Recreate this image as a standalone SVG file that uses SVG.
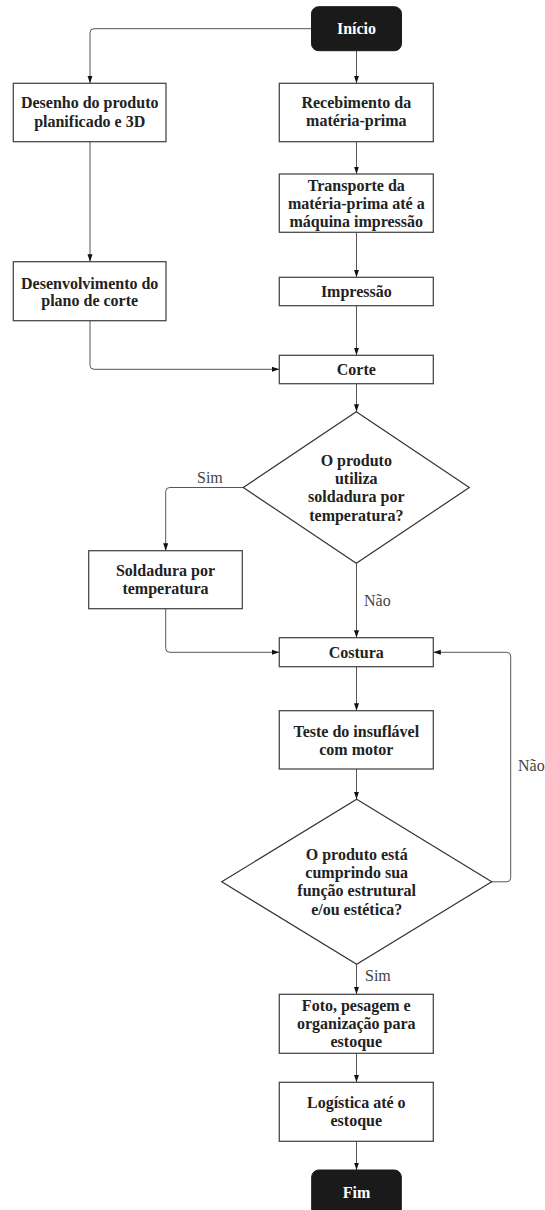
<svg xmlns="http://www.w3.org/2000/svg" width="545" height="1210" viewBox="0 0 545 1210">
<style>
.box{fill:#fff;stroke:#4a4a4a;stroke-width:1.3}
.term{fill:#1a1a1a;stroke:#1a1a1a}
.dia{fill:#fff;stroke:#333;stroke-width:1.2}
.t{font-family:"Liberation Serif","Times New Roman",serif;font-size:16px;font-weight:bold;fill:#222;text-anchor:middle}
.tw{font-family:"Liberation Serif","Times New Roman",serif;font-size:16px;font-weight:bold;fill:#fff;text-anchor:middle}
.lbl{font-family:"Liberation Serif","Times New Roman",serif;font-size:16px;fill:#444}
.c{fill:none;stroke:#555;stroke-width:1;marker-end:url(#arr)}
</style>
<defs>
<marker id="arr" markerUnits="userSpaceOnUse" markerWidth="8" markerHeight="6" refX="7.5" refY="3" orient="auto">
<path d="M0,0.5 L7.5,3 L0,5.5 z" fill="#111"/>
</marker>
</defs>
<rect width="545" height="1210" fill="#fff"/>
<g id="connectors">
<path class="c" d="M311.5,28.7 H94 Q90,28.7 90,32.7 V83.3"/>
<path class="c" d="M356.5,50.7 V83.3"/>
<path class="c" d="M90,141.7 V261.7"/>
<path class="c" d="M356.5,141.7 V174"/>
<path class="c" d="M356.5,232.3 V277.3"/>
<path class="c" d="M90,320.7 V365.3 Q90,369.3 94,369.3 H279.3"/>
<path class="c" d="M356.5,305.7 V355.3"/>
<path class="c" d="M356.5,383.7 V411.7"/>
<path class="c" d="M243.3,487.5 H169.7 Q165.7,487.5 165.7,491.5 V550.7"/>
<path class="c" d="M356.5,563.3 V637.7"/>
<path class="c" d="M165.7,608.7 V648.3 Q165.7,652.3 169.7,652.3 H279.3"/>
<path class="c" d="M356.5,666.7 V710.7"/>
<path class="c" d="M356.5,769 V799.3"/>
<path class="c" d="M491.7,881.8 H506.7 Q510.7,881.8 510.7,877.8 V656.3 Q510.7,652.3 506.7,652.3 H433.3"/>
<path class="c" d="M356.5,964.3 V994.3"/>
<path class="c" d="M356.5,1053.3 V1082.3"/>
<path class="c" d="M356.5,1141.3 V1170"/>
<text class="lbl" x="197" y="482.5">Sim</text>
<text class="lbl" x="364" y="605.5">Não</text>
<text class="lbl" x="518" y="771">Não</text>
<text class="lbl" x="365" y="981">Sim</text>
</g>
<g id="inicio">
<rect class="term" x="311.5" y="6.7" width="90" height="44" rx="7"/>
<text class="tw" x="356.5" y="34">Início</text>
</g>
<g id="desenho">
<rect class="box" x="13.3" y="83.3" width="152.7" height="58.4"/>
<text class="t" x="89.7" y="108">Desenho do produto</text>
<text class="t" x="89.7" y="126.5">planificado e 3D</text>
</g>
<g id="recebimento">
<rect class="box" x="279.3" y="83.3" width="154" height="58.4"/>
<text class="t" x="356.3" y="108">Recebimento da</text>
<text class="t" x="356.3" y="126">matéria-prima</text>
</g>
<g id="transporte">
<rect class="box" x="279.3" y="174" width="154" height="58.3"/>
<text class="t" x="356.3" y="190.5">Transporte da</text>
<text class="t" x="356.3" y="208.8">matéria-prima até a</text>
<text class="t" x="356.3" y="227">máquina impressão</text>
</g>
<g id="desenvolvimento">
<rect class="box" x="13.3" y="261.7" width="152.7" height="59"/>
<text class="t" x="89.7" y="289">Desenvolvimento do</text>
<text class="t" x="89.7" y="306">plano de corte</text>
</g>
<g id="impressao">
<rect class="box" x="279.3" y="277.3" width="154" height="28.4"/>
<text class="t" x="356.3" y="297">Impressão</text>
</g>
<g id="corte">
<rect class="box" x="279.3" y="355.3" width="154" height="28.4"/>
<text class="t" x="356.3" y="375">Corte</text>
</g>
<g id="decisao1">
<polygon class="dia" points="356.3,411.7 469.3,487.5 356.3,563.3 243.3,487.5"/>
<text class="t" x="356.3" y="465.5">O produto</text>
<text class="t" x="356.3" y="483.8">utiliza</text>
<text class="t" x="356.3" y="502.2">soldadura por</text>
<text class="t" x="356.3" y="520.5">temperatura?</text>
</g>
<g id="soldadura">
<rect class="box" x="88.7" y="550.7" width="153.6" height="58"/>
<text class="t" x="165.5" y="576">Soldadura por</text>
<text class="t" x="165.5" y="594">temperatura</text>
</g>
<g id="costura">
<rect class="box" x="279.3" y="637.7" width="154" height="29"/>
<text class="t" x="356.3" y="658">Costura</text>
</g>
<g id="teste">
<rect class="box" x="279.3" y="710.7" width="154" height="58.3"/>
<text class="t" x="356.3" y="736.5">Teste do insuflável</text>
<text class="t" x="356.3" y="754.5">com motor</text>
</g>
<g id="decisao2">
<polygon class="dia" points="356.7,799.3 491.7,881.8 356.7,964.3 221.7,881.8"/>
<text class="t" x="356.7" y="859.5">O produto está</text>
<text class="t" x="356.7" y="877.8">cumprindo sua</text>
<text class="t" x="356.7" y="896.2">função estrutural</text>
<text class="t" x="356.7" y="914.5">e/ou estética?</text>
</g>
<g id="foto">
<rect class="box" x="279.3" y="994.3" width="154" height="59"/>
<text class="t" x="356.3" y="1011">Foto, pesagem e</text>
<text class="t" x="356.3" y="1029.3">organização para</text>
<text class="t" x="356.3" y="1047">estoque</text>
</g>
<g id="logistica">
<rect class="box" x="279.3" y="1082.3" width="154" height="59"/>
<text class="t" x="356.3" y="1108">Logística até o</text>
<text class="t" x="356.3" y="1126">estoque</text>
</g>
<g id="fim">
<rect class="term" x="311.7" y="1170" width="89.6" height="46" rx="7"/>
<text class="tw" x="356.5" y="1198">Fim</text>
</g>
</svg>
